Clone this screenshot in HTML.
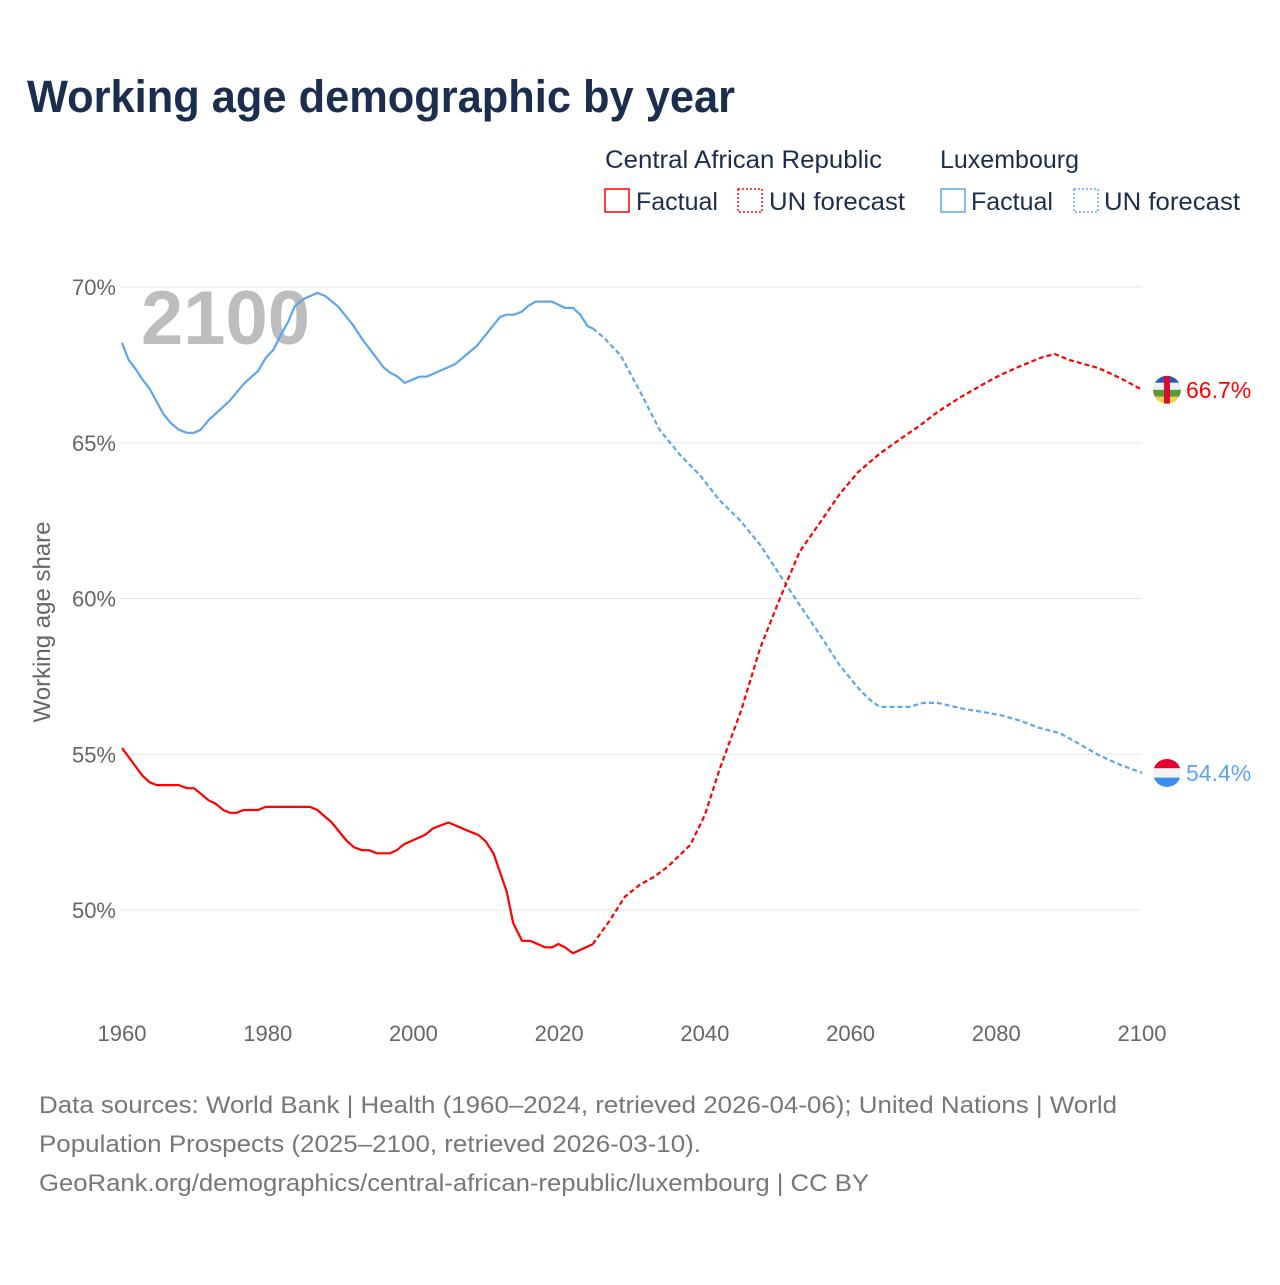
<!DOCTYPE html>
<html><head><meta charset="utf-8"><style>
body{margin:0;background:#fff;}
svg text{font-family:"Liberation Sans",sans-serif;}
</style></head><body>
<svg id="chart" width="1280" height="1280" xmlns="http://www.w3.org/2000/svg">
<text x="27" y="112" font-size="45" font-weight="bold" fill="#1b2e4e" textLength="708" lengthAdjust="spacingAndGlyphs">Working age demographic by year</text>
<g font-size="25" fill="#1b2e4e">
<text x="605" y="168" fill="#1b2e4e" textLength="277" lengthAdjust="spacingAndGlyphs">Central African Republic</text>
<text x="940" y="168" fill="#1b2e4e">Luxembourg</text>
<rect x="605" y="189" width="24" height="23" fill="none" stroke="#f00" stroke-width="1.5"/>
<text x="636" y="210" fill="#1b2e4e">Factual</text>
<rect x="738" y="189" width="24" height="23" fill="none" stroke="#f00" stroke-width="1.5" stroke-dasharray="2,2"/>
<text x="769" y="210" fill="#1b2e4e" textLength="136" lengthAdjust="spacingAndGlyphs">UN forecast</text>
<rect x="941" y="189" width="24" height="23" fill="none" stroke="#5ea5ec" stroke-width="1.5"/>
<text x="971" y="210" fill="#1b2e4e">Factual</text>
<rect x="1074" y="189" width="24" height="23" fill="none" stroke="#5ea5ec" stroke-width="1.5" stroke-dasharray="2,2"/>
<text x="1104" y="210" fill="#1b2e4e" textLength="136" lengthAdjust="spacingAndGlyphs">UN forecast</text>
</g>
<g id="grid"></g>
<text x="141" y="344" font-size="76" font-weight="bold" fill="#bdbdbd">2100</text>
<text transform="translate(50,622) rotate(-90)" text-anchor="middle" font-size="24" fill="#666">Working age share</text>
<g id="series"></g>
<g font-size="24" fill="#777">
<text x="39" y="1113" textLength="1078" lengthAdjust="spacingAndGlyphs">Data sources: World Bank | Health (1960–2024, retrieved 2026-04-06); United Nations | World</text>
<text x="39" y="1152" textLength="662" lengthAdjust="spacingAndGlyphs">Population Prospects (2025–2100, retrieved 2026-03-10).</text>
<text x="39" y="1191" textLength="830" lengthAdjust="spacingAndGlyphs">GeoRank.org/demographics/central-african-republic/luxembourg | CC BY</text>
</g>
</svg>
<script>
const yTicks=[50,55,60,65,70];
const xTicks=[1960,1980,2000,2020,2040,2060,2080,2100];
const carFactYears=[1960,1962.8,1963.8,1964.8,1967.8,1968.9,1969.9,1971.9,1972.8,1973.9,1974.8,1975.7,1976.7,1978.7,1979.7,1985.8,1986.8,1988.8,1990.8,1991.8,1992.9,1993.9,1995,1996.8,1997.7,1998.7,2001.6,2002.7,2004.8,2007.8,2008.9,2009.9,2011,2012.8,2013.7,2014.9,2016,2018.1,2019,2019.9,2020.8,2021.9,2024.6];
const carFactValues=[55.2,54.31,54.1,54.01,54.01,53.91,53.91,53.52,53.42,53.21,53.12,53.12,53.21,53.21,53.31,53.31,53.21,52.81,52.23,52.02,51.92,51.92,51.82,51.82,51.92,52.11,52.41,52.62,52.81,52.51,52.41,52.21,51.81,50.59,49.58,49.01,49.01,48.8,48.8,48.91,48.8,48.61,48.9];
const carFcYears=[2024.6,2027,2029,2031,2033,2035,2038,2040,2042,2045,2047.6,2050.3,2053,2056,2058.5,2061,2064,2067,2069.5,2072,2075,2078,2080.5,2083,2086,2088,2090,2094,2097,2100];
const carFcValues=[48.9,49.68,50.42,50.8,51.06,51.41,52.09,53.05,54.5,56.42,58.41,60.0,61.5,62.5,63.35,64.05,64.65,65.15,65.55,66.0,66.45,66.85,67.17,67.43,67.72,67.85,67.66,67.4,67.08,66.7];
const luxFactYears=[1960,1960.9,1961.8,1962.8,1963.8,1965.7,1966.7,1967.8,1968.9,1969.9,1970.8,1971.9,1972.8,1974.8,1976.7,1978.7,1979.7,1980.8,1981.7,1982.8,1983.7,1984.9,1986.8,1987.9,1989.7,1991.7,1992.9,1995.9,1996.8,1997.8,1998.8,2000.8,2001.8,2005.7,2008.7,2011.9,2012.8,2013.8,2014.9,2015.8,2016.8,2019,2020.8,2021.9,2022.9,2023.9,2024.6];
const luxFactValues=[68.21,67.66,67.39,67.03,66.73,65.92,65.63,65.42,65.32,65.32,65.42,65.73,65.92,66.35,66.89,67.31,67.71,67.99,68.42,68.88,69.38,69.61,69.81,69.71,69.36,68.78,68.35,67.42,67.25,67.13,66.92,67.12,67.12,67.52,68.11,69.04,69.11,69.11,69.21,69.4,69.53,69.53,69.33,69.33,69.11,68.74,68.67];
const luxFcYears=[2024.6,2026,2028.4,2031,2033.8,2036.6,2039.3,2042,2044.8,2047.6,2050.3,2053,2055.8,2058.5,2061.3,2062.7,2064,2068,2070,2072,2075,2080.5,2083,2086,2088.7,2091.6,2094,2097,2100];
const luxFcValues=[68.67,68.4,67.82,66.69,65.41,64.61,63.96,63.16,62.52,61.72,60.75,59.79,58.83,57.86,57.06,56.74,56.52,56.52,56.65,56.65,56.48,56.26,56.1,55.84,55.68,55.3,54.98,54.66,54.4];

const NS='http://www.w3.org/2000/svg';
const X=y=>122+(y-1960)*(1020/140);
const Y=v=>287+(70-v)*31.15;
function mk(tag,attrs,parent){const e=document.createElementNS(NS,tag);for(const k in attrs)e.setAttribute(k,attrs[k]);parent.appendChild(e);return e;}
const grid=document.getElementById('grid');
yTicks.forEach(t=>{
  const l=mk('line',{x1:120,x2:1142,y1:Y(t),y2:Y(t),stroke:'#e6e6e6','stroke-width':1},grid);
  
  
  const tx=mk('text',{x:116,y:Y(t)+8,'text-anchor':'end','font-size':22,fill:'#666'},grid);
  tx.textContent=t+'%';
  
  
});
xTicks.forEach(t=>{
  const tx=mk('text',{x:X(t),y:1041,'text-anchor':'middle','font-size':22,fill:'#666'},grid);
  tx.textContent=t;
  
  
});
const sg=document.getElementById('series');
function line(xs,vs,color,dash,name){
  const d=xs.map((x,i)=>(i?'L':'M')+X(x).toFixed(1)+','+Y(vs[i]).toFixed(1)).join('');
  const p=mk('path',{d:d,fill:'none',stroke:color,'stroke-width':2.2,'stroke-linejoin':'round'},sg);
  if(dash)p.setAttribute('stroke-dasharray','5,3');
  
  
}
line(luxFactYears,luxFactValues,'#5ea5ec',false,'lux-factual-line');
line(luxFcYears,luxFcValues,'#5ea5ec',true,'lux-forecast-line');
line(carFactYears,carFactValues,'#f00',false,'car-factual-line');
line(carFcYears,carFcValues,'#f00',true,'car-forecast-line');

const cy1=Y(carFcValues[carFcValues.length-1]), cx=1167;
const defs=mk('defs',{},sg);
const cp1=mk('clipPath',{id:'c1'},defs);mk('circle',{cx:cx,cy:cy1,r:14},cp1);
const f1=mk('g',{'clip-path':'url(#c1)'},sg);


[['#2a5ab8',0],['#eee',1],['#5a9a3a',2],['#f5d142',3]].forEach(([c,i])=>mk('rect',{x:cx-14,y:cy1-14+i*7,width:28,height:7,fill:c},f1));
mk('rect',{x:cx-3,y:cy1-14,width:6,height:28,fill:'#d21034'},f1);
const lab1=mk('text',{x:1186,y:cy1+8,'font-size':23,fill:'#f00'},sg);
lab1.textContent='66.7%';


const cy2=Y(luxFcValues[luxFcValues.length-1]);
const cp2=mk('clipPath',{id:'c2'},defs);mk('circle',{cx:cx,cy:cy2,r:14},cp2);
const f2=mk('g',{'clip-path':'url(#c2)'},sg);


[['#e4002b',0],['#f4f4f4',1],['#3d8ef0',2]].forEach(([c,i])=>mk('rect',{x:cx-14,y:cy2-14+i*9.34,width:28,height:9.4,fill:c},f2));
const lab2=mk('text',{x:1186,y:cy2+8,'font-size':23,fill:'#5ea5ec'},sg);
lab2.textContent='54.4%';


</script>
</body></html>
